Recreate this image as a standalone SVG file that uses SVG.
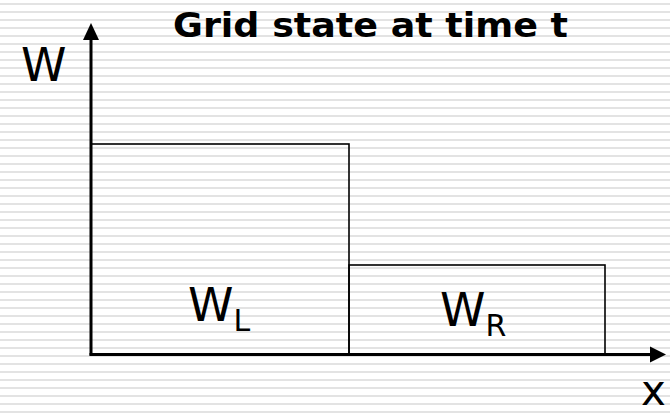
<svg xmlns="http://www.w3.org/2000/svg" width="670" height="414" viewBox="0 0 670 414">
  <defs>
    <pattern id="stripes" x="0" y="0" width="670" height="8" patternUnits="userSpaceOnUse">
      <rect x="0" y="3" width="670" height="2" fill="#e3e3e3"/>
    </pattern>
  </defs>
  <style>
    .lbl { font-family: "DejaVu Sans", Verdana, sans-serif; fill: #000; }
    .bar { fill: none; stroke: #000; stroke-width: 1.6; }
    .axis { stroke: #000; stroke-width: 3; fill: none; }
  </style>
  <rect width="670" height="414" fill="#fff"/>
  <rect width="670" height="414" fill="url(#stripes)"/>

  <g id="title">
    <text class="lbl" x="173" y="37" font-size="34" font-weight="bold" textLength="395" lengthAdjust="spacingAndGlyphs">Grid state at time t</text>
  </g>

  <g id="bar-left">
    <rect class="bar" x="91" y="144" width="258" height="210"/>
    <text class="lbl" x="188" y="321" font-size="46">W<tspan font-size="30" dy="10">L</tspan></text>
  </g>
  <g id="bar-right">
    <rect class="bar" x="349" y="265" width="256" height="89"/>
    <text class="lbl" x="440" y="326" font-size="46">W<tspan font-size="30" dy="10">R</tspan></text>
  </g>

  <g id="connectors">
    <line class="axis" x1="91" y1="355.5" x2="91" y2="38"/>
    <polygon points="91,23 83,40 99,40" fill="#000"/>
    <line class="axis" x1="89.5" y1="354.5" x2="651" y2="354.5"/>
    <polygon points="666,354.5 650,346.5 650,362.5" fill="#000"/>
  </g>

  <g id="axis-labels">
    <text class="lbl" x="21" y="81" font-size="46">W</text>
    <text class="lbl" x="641" y="405" font-size="42">x</text>
  </g>
</svg>
